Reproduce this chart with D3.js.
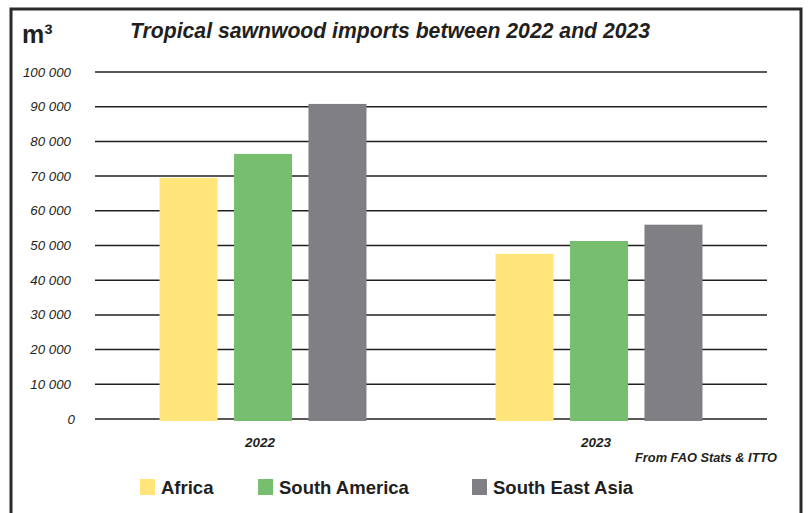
<!DOCTYPE html>
<html><head><meta charset="utf-8">
<script src="https://cdn.jsdelivr.net/npm/d3@7"></script>
<style>body{margin:0;background:#fff}svg{display:block}text{font-family:"Liberation Sans",Arial,sans-serif;fill:#231f20}</style>
</head><body>
<script>
const years = ["2022", "2023"];
const regions = ["Africa", "South America", "South East Asia"];
const colors = ["#ffe57a", "#77be6e", "#808084"];
const values = {
  "Africa": [69500, 47600],
  "South America": [76400, 51300],
  "South East Asia": [90800, 56000]
};
const yTicks = [0,10000,20000,30000,40000,50000,60000,70000,80000,90000,100000];
const title = "Tropical sawnwood imports between 2022 and 2023";
const unit = "m³";
const source = "From FAO Stats & ITTO";

const W = 809, H = 513;
const svg = d3.select("body").append("svg").attr("width", W).attr("height", H);

// frame
svg.append("path").attr("d", `M11,${H+5} L11,9 L801,9 L801,${H+5}`)
  .attr("fill","none").attr("stroke","#2a2a2a").attr("stroke-width",3);

const x0 = d3.scaleBand().domain(years).range([95, 767]).padding(0);
const x1 = d3.scaleBand().domain(regions)
  .range([x0.bandwidth()*0.192, x0.bandwidth()*0.808]).paddingInner(0.221);
const y = d3.scaleLinear().domain([0, 100000]).range([419, 72]);

const fmt = v => d3.format(",")(v).replace(/,/g, " ");

// gridlines
svg.append("g").selectAll("line").data(yTicks).join("line")
  .attr("x1", 95).attr("x2", 767)
  .attr("y1", d => y(d)).attr("y2", d => y(d))
  .attr("stroke", "#231f20").attr("stroke-width", 1.5);

// y labels
svg.append("g").selectAll("text").data(yTicks).join("text")
  .attr("x", d => d === 0 ? 75 : 71).attr("y", d => y(d) + 4.5)
  .attr("text-anchor", "end").attr("font-style", "italic").attr("font-size", 13.3)
  .text(d => fmt(d));

// bars
const g = svg.append("g");
years.forEach((yr, i) => {
  regions.forEach((r, j) => {
    g.append("rect")
      .attr("x", x0(yr) + x1(r)).attr("width", x1.bandwidth())
      .attr("y", y(values[r][i])).attr("height", y(0) - y(values[r][i]) + 2)
      .attr("fill", colors[j]);
  });
});

// x labels
svg.append("g").selectAll("text").data(years).join("text")
  .attr("x", d => x0(d) + x0.bandwidth()/2 - 3).attr("y", 447)
  .attr("text-anchor", "middle").attr("font-style", "italic").attr("font-weight", "bold")
  .attr("font-size", 13.5).text(d => d);

// title
svg.append("text").attr("x", 130).attr("y", 38).attr("font-style","italic")
  .attr("font-weight","bold").attr("font-size", 21.2).text(title);
svg.append("text").attr("x", 22).attr("y", 43).attr("font-weight","bold")
  .attr("font-size", 25).text(unit);

// source
svg.append("text").attr("x", 777).attr("y", 462).attr("text-anchor","end")
  .attr("font-style","italic").attr("font-weight","bold").attr("font-size", 12.8).text(source);

// legend
const legendX = [140, 258, 472];
const lg = svg.append("g");
regions.forEach((r, j) => {
  lg.append("rect").attr("x", legendX[j]).attr("y", 479).attr("width", 15).attr("height", 16)
    .attr("fill", colors[j]);
  lg.append("text").attr("x", legendX[j] + 21).attr("y", 494).attr("font-weight","bold")
    .attr("font-size", 18.5).text(r);
});
</script>
</body></html>
